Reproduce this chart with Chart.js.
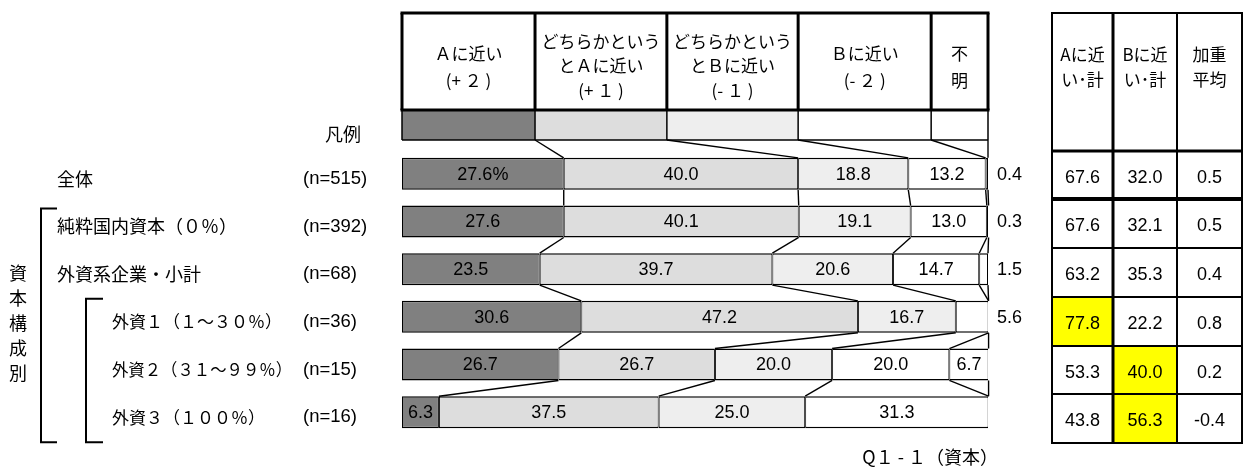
<!DOCTYPE html>
<html lang="ja">
<head>
<meta charset="utf-8">
<script src="https://cdn.jsdelivr.net/npm/chart.js@4.4.1/dist/chart.umd.min.js"></script>
<style>
  html, body { margin: 0; padding: 0; background: #ffffff; }
  canvas { display: block; }
</style>
</head>
<body>
<canvas id="chart" width="1243" height="469"></canvas>
<script>
// Row categories and sample sizes
const categories = ['全体', '純粋国内資本（０％）', '外資系企業・小計', '外資１（１～３０％）', '外資２（３１～９９％）', '外資３（１００％）'];
const sampleSizes = ['(n=515)', '(n=392)', '(n=68)', '(n=36)', '(n=15)', '(n=16)'];
const subLevel = [0, 0, 0, 1, 1, 1];

// Answer shares (%) per row
const nearA2 = [27.6, 27.6, 23.5, 30.6, 26.7, 6.3];
const nearA1 = [40.0, 40.1, 39.7, 47.2, 26.7, 37.5];
const nearB1 = [18.8, 19.1, 20.6, 16.7, 20.0, 25.0];
const nearB2 = [13.2, 13.0, 14.7, 5.6, 20.0, 31.3];
const unknown = [0.4, 0.3, 1.5, 0, 6.7, 0];

// Summary columns
const totalA = [67.6, 67.6, 63.2, 77.8, 53.3, 43.8];
const totalB = [32.0, 32.1, 35.3, 22.2, 40.0, 56.3];
const weightedAvg = [0.5, 0.5, 0.4, 0.8, 0.2, -0.4];

// Header texts
const seriesHeaders = [
  ['Ａに近い', '(+ ２ )'],
  ['どちらかという', 'とＡに近い', '(+ １ )'],
  ['どちらかという', 'とＢに近い', '(- １ )'],
  ['Ｂに近い', '(- ２ )'],
  ['不', '明']
];
const summaryHeaders = [['Aに近', 'い･計'], ['Bに近', 'い･計'], ['加重', '平均']];
const groupTitle = '資本構成別';
const legendTitle = '凡例';
const footNote = 'Q１ - １（資本）';

const seriesValues = [nearA2, nearA1, nearB1, nearB2, unknown];
const summaryValues = [totalA, totalB, weightedAvg];
const seriesColors = ['#808080', '#dddddd', '#eeeeee', '#ffffff', '#ffffff'];

const JP = '"Noto Sans CJK JP", "Noto Sans", sans-serif';
const NUM = '"Liberation Sans", Arial, sans-serif';

// Column edges of the header table, in axis percent
const headerEdges = [0, 22.7, 45.2, 67.6, 90.3, 100];

function line(ctx, x1, y1, x2, y2) {
  ctx.beginPath();
  ctx.moveTo(x1, y1);
  ctx.lineTo(x2, y2);
  ctx.stroke();
}

const decorations = {
  id: 'decorations',
  afterDraw(chart) {
    const ctx = chart.ctx;
    const xs = chart.scales.x;
    const px = v => xs.getPixelForValue(v);
    const meta = chart.getDatasetMeta(0);
    const rowMid = r => meta.data[r].y;
    const rowTop = r => meta.data[r].y - meta.data[r].height / 2;
    const rowBottom = r => meta.data[r].y + meta.data[r].height / 2;
    const cum = categories.map((_, r) => {
      let s = 0;
      return seriesValues.map(v => (s += v[r]));
    });

    ctx.save();
    ctx.strokeStyle = '#000';
    ctx.fillStyle = '#000';
    ctx.lineCap = 'butt';

    // ---- header table with legend swatches ----
    const hTop = 13, hBottom = 110, lgBottom = 140;
    const hx = headerEdges.map(px);
    for (let k = 0; k < 5; k++) {
      ctx.fillStyle = seriesColors[k];
      ctx.fillRect(hx[k], hBottom, hx[k + 1] - hx[k], lgBottom - hBottom);
    }
    ctx.lineWidth = 1.5;
    line(ctx, hx[0], lgBottom, hx[5], lgBottom);
    hx.forEach(x => line(ctx, x, hBottom, x, lgBottom));
    ctx.lineWidth = 3;
    line(ctx, hx[0] - 1.5, hTop, hx[5] + 1.5, hTop);
    line(ctx, hx[0] - 1.5, hBottom, hx[5] + 1.5, hBottom);
    hx.forEach(x => line(ctx, x, hTop, x, hBottom));

    ctx.fillStyle = '#000';
    ctx.font = '17px ' + JP;
    ctx.textAlign = 'center';
    ctx.textBaseline = 'middle';
    seriesHeaders.forEach((lines, k) => {
      const cx = (hx[k] + hx[k + 1]) / 2;
      const ys = lines.length === 3 ? [42, 66, 91] : [54, 81];
      lines.forEach((t, i) => ctx.fillText(t, cx, ys[i]));
    });

    // ---- connectors between stacked rows ----
    ctx.lineWidth = 1.4;
    for (let k = 0; k < 5; k++) {
      line(ctx, hx[k + 1], lgBottom, px(cum[0][k]), rowTop(0));
    }
    for (let r = 0; r < categories.length - 1; r++) {
      for (let k = 0; k < 5; k++) {
        line(ctx, px(cum[r][k]), rowBottom(r), px(cum[r + 1][k]), rowTop(r + 1));
      }
    }

    // ---- value labels ----
    ctx.font = '18px ' + NUM;
    ctx.textBaseline = 'middle';
    categories.forEach((_, r) => {
      seriesValues.forEach((vals, k) => {
        const v = vals[r];
        if (v <= 0) return;
        const txt = v.toFixed(1) + (r === 0 && k === 0 ? '%' : '');
        if (v >= 6) {
          ctx.textAlign = 'center';
          ctx.fillText(txt, (px(cum[r][k] - v) + px(cum[r][k])) / 2, rowMid(r) + 1);
        } else {
          ctx.textAlign = 'left';
          ctx.fillText(txt, xs.right + 9, rowMid(r) + 1);
        }
      });
    });

    // ---- row labels ----
    categories.forEach((name, r) => {
      const y = rowMid(r) + 5;
      ctx.textAlign = 'left';
      if (subLevel[r]) {
        ctx.font = '17px ' + JP;
        ctx.fillText(name, 112, y, 180);
      } else {
        ctx.font = '18px ' + JP;
        ctx.fillText(name, 57, y);
      }
      ctx.font = '18.5px ' + NUM;
      ctx.fillText(sampleSizes[r], 303, y);
    });
    ctx.font = '18px ' + JP;
    ctx.fillText(legendTitle, 325, 134);

    // group brackets
    ctx.lineWidth = 2;
    const outerTop = rowMid(1) - 13, groupBottom = rowMid(5) + 30, innerTop = rowMid(3) - 18;
    ctx.beginPath();
    ctx.moveTo(57, outerTop); ctx.lineTo(41, outerTop); ctx.lineTo(41, groupBottom); ctx.lineTo(57, groupBottom);
    ctx.stroke();
    ctx.beginPath();
    ctx.moveTo(103, innerTop); ctx.lineTo(86, innerTop); ctx.lineTo(86, groupBottom); ctx.lineTo(103, groupBottom);
    ctx.stroke();

    ctx.textAlign = 'center';
    Array.from(groupTitle).forEach((ch, i) => ctx.fillText(ch, 18, 273.5 + i * 25));

    // foot note
    ctx.textAlign = 'right';
    ctx.font = '18px ' + JP;
    ctx.fillText(footNote, 998, 457);

    // ---- summary table ----
    const tx = [1052, 1113, 1177, 1242];
    const ty = [13, 151, 199, 248, 297, 346, 394, 443];
    summaryValues.slice(0, 2).forEach((vals, c) => {
      vals.forEach((v, r) => {
        if (r > 0 && v - vals[0] >= 5) {
          ctx.fillStyle = '#ffff00';
          ctx.fillRect(tx[c], ty[r + 1], tx[c + 1] - tx[c], ty[r + 2] - ty[r + 1]);
        }
      });
    });
    ctx.fillStyle = '#000';
    const vWidths = [2, 3, 2, 2];
    tx.forEach((x, i) => { ctx.lineWidth = vWidths[i]; line(ctx, x, ty[0] - 1, x, ty[7] + 1); });
    const hWidths = [2, 3, 4, 2, 2, 2, 2, 2];
    ty.forEach((y, i) => { ctx.lineWidth = hWidths[i]; line(ctx, tx[0] - 1, y, tx[3] + 1, y); });

    ctx.textAlign = 'center';
    ctx.font = '17px ' + JP;
    summaryHeaders.forEach((lines, c) => {
      const cx = (tx[c] + tx[c + 1]) / 2;
      lines.forEach((t, i) => ctx.fillText(t, cx, [55, 80][i]));
    });
    ctx.font = '18px ' + NUM;
    summaryValues.forEach((vals, c) => {
      const cx = (tx[c] + tx[c + 1]) / 2;
      vals.forEach((v, r) => {
        const txt = v < 0 ? '-' + Math.abs(v).toFixed(1) : v.toFixed(1);
        ctx.fillText(txt, cx, (ty[r + 1] + ty[r + 2]) / 2 + 3);
      });
    });

    ctx.restore();
  }
};

new Chart(document.getElementById('chart'), {
  type: 'bar',
  data: {
    labels: categories,
    datasets: seriesValues.map((vals, k) => ({
      label: seriesHeaders[k].join(''),
      data: vals,
      backgroundColor: seriesColors[k],
      borderColor: '#000000',
      borderWidth: { top: 1.5, bottom: 1.5, left: 1, right: 1 },
      borderSkipped: false,
      barPercentage: 0.67,
      categoryPercentage: 1
    }))
  },
  options: {
    indexAxis: 'y',
    responsive: false,
    animation: false,
    devicePixelRatio: 1,
    layout: { padding: { left: 402, right: 255, top: 150, bottom: 33 } },
    scales: {
      x: { stacked: true, min: 0, max: 100, display: false },
      y: { stacked: true, display: false }
    },
    plugins: {
      legend: { display: false },
      tooltip: { enabled: false }
    }
  },
  plugins: [decorations]
});
</script>
</body>
</html>
